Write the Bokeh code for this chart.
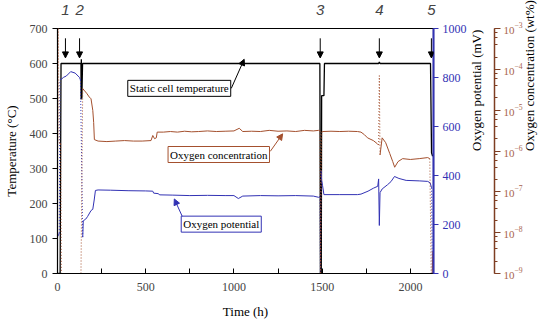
import math
import numpy as np
from bokeh.plotting import figure
from bokeh.models import (Range1d, LinearAxis, LogAxis, LogScale, FixedTicker, Label,
                          Arrow, NormalHead)
from bokeh.embed import file_html
from bokeh.resources import INLINE

# ---------------- data ----------------
temp_time = [0, 15, 20, 128, 133, 134, 135, 138, 142, 1487, 1490, 1495, 1497, 1510, 1513,
             1820, 1824, 1828, 2114, 2120, 2126]
temp_c = [0, 0, 600, 600, 600, 497, 612, 500, 600, 600, 0, 0, 508, 508, 600,
          600, 604, 600, 600, 345, 335]

pot_time = [0, 6, 10, 14, 25, 35, 50, 75, 100, 125, 130, 143, 146, 160, 170, 190, 200, 208,
            215, 230, 300, 400, 500, 540, 545, 570, 580, 650, 750, 850, 950, 1000, 1025,
            1050, 1150, 1250, 1350, 1450, 1480, 1487, 1490, 1494, 1497, 1502, 1510, 1600,
            1700, 1720, 1760, 1790, 1815, 1820, 1824, 1828, 1840, 1870, 1890, 1910, 1935,
            1976, 2050, 2098, 2112, 2120, 2124]
pot_mv = [150, 158, 165, 790, 795, 801, 806, 824, 818, 800, 790, 148, 215, 222, 232, 257,
          262, 300, 339, 341, 340, 338, 337, 336, 328, 326, 321, 320, 318, 319, 318, 318,
          306, 316, 318, 317, 318, 316, 311, 314, 0, 420, 380, 360, 322, 322, 322, 324,
          336, 348, 356, 386, 196, 330, 345, 362, 375, 396, 388, 380, 378, 376, 370, 350, 0]

conc_time = [0, 2, 5, 8, 18, 22, 133, 143, 150, 165, 180, 190, 200, 205, 209, 230, 280,
             330, 380, 430, 480, 530, 540, 550, 560, 565, 600, 640, 680, 720, 760, 800, 850,
             900, 950, 1000, 1030, 1050, 1100, 1150, 1200, 1250, 1300, 1350, 1400, 1450,
             1480, 1488, 1491, 1497, 1505, 1550, 1600, 1650, 1700, 1720, 1740, 1757, 1790,
             1813, 1820, 1824, 1828, 1840, 1860, 1883, 1900, 1911, 1930, 1956, 2000, 2050,
             2098, 2110, 2118, 2124, 2127]
conc_wt = [1e-9, 1e-3, 1e-3, 1.6e-6, 1.5e-6, 1e-9, 1e-9, 3.4e-5, 3.1e-5, 2.6e-5, 2.1e-5,
           1.9e-5, 9.9e-6, 5.0e-6, 1.9e-6, 1.75e-6, 1.7e-6, 1.75e-6, 1.8e-6, 1.75e-6,
           1.75e-6, 1.8e-6, 2.4e-6, 2.0e-6, 2.1e-6, 2.9e-6, 2.9e-6, 3.0e-6, 2.9e-6, 3.05e-6,
           2.95e-6, 3.0e-6, 3.1e-6, 3.0e-6, 3.05e-6, 3.1e-6, 3.6e-6, 3.0e-6, 3.05e-6,
           3.0e-6, 3.2e-6, 3.05e-6, 3.1e-6, 3.0e-6, 3.2e-6, 3.1e-6, 3.2e-6, 3.1e-6, 1e-9,
           2.9e-6, 3.0e-6, 3.05e-6, 3.0e-6, 3.05e-6, 3.0e-6, 2.9e-6, 2.5e-6, 2.1e-6, 1.8e-6,
           1.5e-6, 1.4e-6, 7e-5, 8e-7, 2.1e-6, 1.6e-6, 8.7e-7, 5.5e-7, 4.0e-7, 5.5e-7,
           6.5e-7, 6.2e-7, 6.5e-7, 6.9e-7, 6.5e-7, 1e-9, 1e-9, 3.5e-9]

x_ticks = [0, 500, 1000, 1500, 2000]
x_minor = [250, 750, 1250, 1750]
temp_ticks = [0, 100, 200, 300, 400, 500, 600, 700]
pot_ticks = [0, 200, 400, 600, 800, 1000]
event_times = [45, 125, 1489, 1824, 2119]
event_labels = ["1", "2", "3", "4", "5"]

assert len(temp_time) == len(temp_c)
assert len(pot_time) == len(pot_mv)
assert len(conc_time) == len(conc_wt)

BLUE = "#3232b4"
BROWN = "#a4502e"
AXBROWN = "#7e3e22"
LABBROWN = "#a8644e"
SERIF = "Liberation Serif"


def split_runs(xs, ys, is_jump):
    solid, dotted = [], []
    cur_x, cur_y = [xs[0]], [ys[0]]
    for i in range(len(xs) - 1):
        if is_jump(ys[i], ys[i + 1]):
            if len(cur_x) > 1:
                solid.append((cur_x, cur_y))
            dotted.append(([xs[i], xs[i + 1]], [ys[i], ys[i + 1]]))
            cur_x, cur_y = [xs[i + 1]], [ys[i + 1]]
        else:
            cur_x.append(xs[i + 1])
            cur_y.append(ys[i + 1])
    if len(cur_x) > 1:
        solid.append((cur_x, cur_y))
    return solid, dotted


p = figure(frame_width=376, frame_height=245, x_range=Range1d(0, 2131),
           y_range=Range1d(0, 700),
           output_backend="svg", toolbar_location=None, min_border_top=28,
           min_border_left=50, min_border_right=0, min_border_bottom=0)
p.extra_y_ranges = {"pot": Range1d(0, 1000), "conc": Range1d(1e-9, 1e-3)}
p.extra_y_scales = {"conc": LogScale()}
p.xgrid.visible = False
p.ygrid.visible = False
p.outline_line_color = "black"
p.outline_line_width = 1.2

# x axis (bottom)
xa = p.below[0]
xa.ticker = FixedTicker(ticks=x_ticks, minor_ticks=x_minor)
xa.axis_label = "Time (h)"
xa.major_tick_in, xa.major_tick_out = 5, 0
xa.minor_tick_in, xa.minor_tick_out = 5, 0
xa.axis_label_standoff = 10
xa.major_label_standoff = 9

# event numbers along the top edge
ea = LinearAxis(ticker=FixedTicker(ticks=event_times),
                major_label_overrides={t: s for t, s in zip(event_times, event_labels)})
ea.axis_line_color = None
ea.major_tick_line_color = None
ea.minor_tick_line_color = None
ea.major_label_text_font = "Liberation Sans"
ea.major_label_text_font_style = "italic"
ea.major_label_text_font_size = "15px"
ea.major_label_standoff = 8
p.add_layout(ea, "above")

ya = p.left[0]
ya.ticker = FixedTicker(ticks=temp_ticks)
ya.axis_label = "Temperature (°C)"
ya.major_tick_in, ya.major_tick_out = 0, 5
ya.minor_tick_line_color = None
ya.axis_label_standoff = 8

pa = LinearAxis(y_range_name="pot", ticker=FixedTicker(ticks=pot_ticks),
                axis_label="Oxygen potential (mV)")
pa.major_tick_in, pa.major_tick_out = 0, 5
pa.minor_tick_line_color = None
pa.axis_line_color = BLUE
pa.axis_line_width = 2
pa.major_tick_line_color = BLUE
pa.major_label_text_color = BLUE
pa.major_label_standoff = 4
pa.axis_label_standoff = 7
p.add_layout(pa, "right")

ca = LogAxis(y_range_name="conc", axis_label="Oxygen concentration (wt%)")
ca.major_tick_in, ca.major_tick_out = 0, 6
ca.minor_tick_in, ca.minor_tick_out = 0, 3
ca.axis_line_color = AXBROWN
ca.axis_line_width = 1.5
ca.major_tick_line_color = AXBROWN
ca.minor_tick_line_color = AXBROWN
ca.major_label_text_color = LABBROWN
ca.major_label_standoff = 3
ca.axis_label_standoff = 4
p.add_layout(ca, "right")

for ax in [xa, ya, pa, ca]:
    ax.major_label_text_font = SERIF
    ax.major_label_text_font_size = "12px"
    ax.axis_label_text_font = SERIF
    ax.axis_label_text_font_size = "13px"
    ax.axis_label_text_font_style = "normal"
    ax.axis_label_text_color = "black"
ca.major_label_text_font_size = "11px"

for ax in [pa, ca]:
    ax.axis_label_orientation = math.pi / 2
    ax.axis_label_text_align = "center"

# --------------- series ---------------
p.line(temp_time, temp_c, line_color="black", line_width=1.3)

solid, dotted = split_runs(pot_time, pot_mv, lambda a, b: abs(b - a) > 250)
p.multi_line([s[0] for s in dotted], [s[1] for s in dotted], y_range_name="pot",
             line_color=BLUE, line_width=1, line_dash="1 2")
p.multi_line([s[0] for s in solid], [s[1] for s in solid], y_range_name="pot",
             line_color=BLUE, line_width=1)

solid, dotted = split_runs(conc_time, conc_wt,
                           lambda a, b: abs(np.log10(b) - np.log10(a)) > 1.0 and min(a, b) < 2e-9 or abs(np.log10(b) - np.log10(a)) > 1.5)
p.multi_line([s[0] for s in dotted], [s[1] for s in dotted], y_range_name="conc",
             line_color=BROWN, line_width=1, line_dash="1 2")
p.multi_line([s[0] for s in solid], [s[1] for s in solid], y_range_name="conc",
             line_color=BROWN, line_width=1)

# --------------- annotations ---------------
for t in event_times:
    p.add_layout(Arrow(end=NormalHead(size=6, fill_color="black", line_color="black"),
                       x_start=t, y_start=672, x_end=t, y_end=616,
                       line_color="black", line_width=1))

boxes = [
    ("Static cell temperature", 690, 529, "black", (985, 529, 1058, 612)),
    ("Oxygen concentration", 914, 340, BROWN, (1206, 349, 1276, 399)),
    ("Oxygen potential", 928, 141, BLUE, (709, 161, 662, 213)),
]
for text, bx, by, col, (x0, y0, x1, y1) in boxes:
    p.add_layout(Arrow(end=NormalHead(size=6, fill_color=col, line_color=col),
                       x_start=x0, y_start=y0, x_end=x1, y_end=y1,
                       line_color=col, line_width=1))
    p.add_layout(Label(x=bx, y=by, text=text, text_align="center", text_baseline="middle",
                       text_font=SERIF, text_font_size="11px", text_color="black",
                       border_line_color=col, border_line_width=1,
                       background_fill_color="white", padding=2))

open("out.html", "w").write(file_html(p, INLINE))
